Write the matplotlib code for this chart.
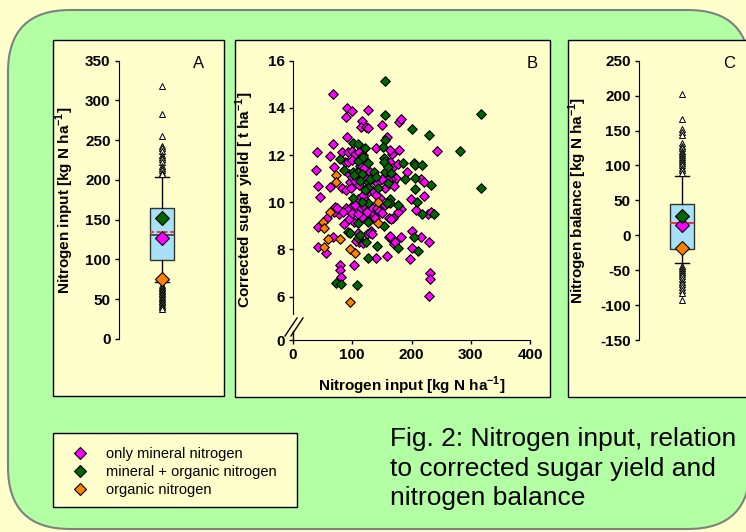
import numpy as np
import matplotlib
matplotlib.use('Agg')
import matplotlib.pyplot as plt
from matplotlib.patches import FancyBboxPatch, Rectangle
from matplotlib.lines import Line2D

plt.rcParams['font.family'] = ['Liberation Sans', 'DejaVu Sans']
plt.rcParams['axes.unicode_minus'] = False
plt.rcParams['mathtext.fontset'] = 'custom'
plt.rcParams['mathtext.rm'] = 'Liberation Sans'
plt.rcParams['mathtext.bf'] = 'Liberation Sans:bold'

# colours of the three fertilisation groups
c_min = '#FF00FF'
c_mix = '#006600'
c_org = '#FF8000'

# --- panel B: nitrogen input vs corrected sugar yield ---
min_x = [67.5, 91.7, 99.6, 127.1, 89.5, 117, 114.2, 122.6, 127.1, 149.7, 179, 182.3, 91.7, 139.5,
         67.5, 158, 40, 62.4, 83.3, 92.3, 100.1, 104.6, 112, 118.7, 87.8, 93.4, 99, 119.8, 113.1,
         167.7, 163.7, 167.7, 69.8, 38.3, 41.6, 62.4, 82.1, 88.9, 96.2, 141.2, 169.3, 173.3, 45.6,
         110.3, 120.4, 146.8, 70.9, 77.6, 69.8, 88.9, 99, 92.3, 113.1, 132.8, 141.2, 145.1, 132.8,
         122.6, 115.9, 103.5, 56.8, 42.8, 86.6, 169.3, 162, 68.1, 110.3, 125.4, 131.1, 112, 118.7,
         41.6, 55.7, 140.1, 159.2, 162.6, 166.5, 171, 79.3, 79.3, 102.9, 80.4,
         179, 242.5, 176.7, 193, 215.5, 221.7, 199.2, 221.7, 182.3, 177.8, 208.2, 228.5, 232.4,
         200.3, 215.5, 182.3, 229.6, 201.5, 197.5, 231.3, 231.3, 229.6,
         164, 166, 160, 150, 156, 171, 155, 165, 95, 100, 108, 115, 120, 125, 130, 135, 105, 98,
         112, 125, 133, 140, 118, 95, 100, 110, 118, 125, 138, 150, 105, 85, 75, 106, 130, 134,
         164, 172]
min_y = [14.59, 13.98, 13.87, 13.9, 13.61, 13.46, 13.18, 13.2, 13.16, 13.28, 13.42, 13.52, 12.78,
         12.32, 12.46, 12.75, 12.15, 11.98, 12.12, 12.15, 12.17, 12.06, 12.12, 12.01, 11.69, 11.69,
         11.78, 11.78, 11.55, 12.03, 11.69, 11.47, 11.51, 11.37, 10.7, 10.66, 10.62, 10.52, 10.87,
         10.8, 10.87, 11.01, 10.21, 10.14, 10.14, 10.17, 9.79, 9.49, 9.6, 9.77, 9.82, 9.67, 9.74,
         9.74, 9.77, 9.64, 9.46, 9.46, 9.36, 9.18, 9.32, 8.93, 9.09, 9.32, 9.35, 8.51, 8.69, 8.64,
         8.76, 8.33, 8.26, 8.12, 7.84, 7.63, 7.74, 8.54, 8.4, 8.22, 7.32, 7.13, 7.34, 6.81,
         12.22, 12.16, 11.61, 11.3, 10.97, 10.87, 10.15, 10.27, 9.7, 9.6, 9.66, 9.52, 9.6,
         8.76, 8.52, 8.52, 8.33, 8.05, 7.6, 7.02, 6.75, 6.04,
         12.2, 11.0, 10.95, 11.0, 10.6, 10.7, 9.9, 9.3, 11.2, 11.05, 11.3, 11.1, 11.45, 11.0, 11.3,
         11.1, 10.9, 10.6, 10.75, 10.4, 10.5, 10.3, 10.3, 9.3, 9.55, 9.5, 9.9, 9.6, 9.35, 9.55,
         9.9, 9.6, 9.75, 8.36, 8.68, 8.64, 8.57, 8.33]
mix_x = [155.8, 155.8, 101.8, 110.3, 121.5, 156, 152.5, 79.3, 109.1, 127.1, 86.1, 101.8, 110.3, 117,
         137.3, 153.6, 153, 155.3, 165.4, 103.5, 113.1, 126, 127.1, 121.5, 159.8, 101.8, 127.1,
         163.7, 163.7, 127.1, 110.3, 154.2, 93.4, 109.1, 113.1, 123.2, 142.3, 126, 72, 81, 107.5,
         316.8, 201.5, 229, 282.5, 185.7, 203.7, 206, 217.2, 189.1, 206, 232.4, 206, 316.8, 209.9,
         176.7, 217.2, 238, 203.7, 176.7, 210.5, 97, 144, 160, 117, 158, 130, 118, 140]
mix_y = [15.14, 13.7, 12.51, 12.47, 12.29, 12.62, 12.36, 11.83, 11.75, 11.65, 11.37, 11.27, 11.3,
         11.21, 11.3, 11.86, 11.69, 11.3, 11.23, 11.16, 10.9, 10.87, 10.62, 10.52, 10.8, 10.2, 9.96,
         10.14, 9.96, 9.18, 9.11, 9.01, 8.73, 8.47, 8.61, 8.33, 8.16, 7.65, 6.57, 6.54, 6.5,
         13.74, 13.12, 12.84, 12.16, 11.65, 11.65, 11.58, 11.58, 10.99, 11.02, 10.73, 10.56, 10.62,
         10.0, 9.9, 9.5, 9.52, 8.53, 8.05, 7.95, 8.68, 10.6, 11.5, 10.0, 9.95, 11.0, 11.9, 11.05]
org_x = [72, 72.6, 143, 62.4, 51.2, 52.9, 144, 59.6, 78.8, 52.3, 96.2, 104.6, 96.8]
org_y = [11.16, 10.86, 10.0, 9.58, 9.15, 8.9, 9.14, 8.44, 8.44, 8.11, 8.02, 7.84, 5.79]

yield_ticks = [6, 8, 10, 12, 14, 16]
input_ticks = [0, 100, 200, 300, 400]

# --- panel A: nitrogen input box plot ---
a_q1, a_med, a_q3, a_mean = 99, 131, 165, 134
a_lo, a_hi = 72, 204
a_fliers = [318, 283, 255, 243, 240, 236, 232, 229, 226, 222, 218, 215, 212, 209, 207,
            68, 66, 64, 62, 60, 58, 56, 54, 52, 50, 48, 46, 44, 42, 40, 38]
a_means = [127, 152, 75]   # only mineral, mineral + organic, organic

# --- panel C: nitrogen balance box plot ---
c_q1, c_med, c_q3, c_mean = -20, 18, 45, 18
c_lo, c_hi = -40, 85
c_fliers = [202, 167, 152, 148, 143, 132, 128, 125, 121, 118, 115, 112, 109, 106, 103, 100, 97, 93, 89,
            -44, -47, -50, -53, -56, -59, -63, -67, -70, -74, -78, -82, -92]
c_means = [15, 28, -18]

legend_labels = ['only mineral nitrogen', 'mineral + organic nitrogen', 'organic nitrogen']
caption = 'Fig. 2: Nitrogen input, relation\nto corrected sugar yield and\nnitrogen balance'

W, H = 746, 532
fig = plt.figure(figsize=(W / 100, H / 100), dpi=100, facecolor='#FFFFCC')


def box(px0, py0, px1, py1):
    return [px0 / W, 1 - py1 / H, (px1 - px0) / W, (py1 - py0) / H]


# background drawn in pixel units
bg = fig.add_axes([0, 0, 1, 1])
bg.set_xlim(0, W)
bg.set_ylim(H, 0)
bg.axis('off')
bg.add_patch(FancyBboxPatch((8, 10), 742, 519, boxstyle='round,pad=0,rounding_size=62',
                            fc='#B3FFA3', ec='#808080', lw=1.5))
for (x0, y0, w, h) in [(53, 40, 171, 356), (235, 40, 315, 357), (568, 40, 182, 357),
                       (53, 433, 244, 74)]:
    bg.add_patch(Rectangle((x0, y0), w, h, fc='#FFFFCC', ec='black', lw=1))

# break marks on the yield axis
for dx in (0, 6):
    bg.plot([285 + dx, 297 + dx], [336, 318], color='black', lw=1)

lab_font = dict(fontsize=11, fontweight='bold')
tick_size = 11


def style_box_axes(ax):
    ax.patch.set_visible(False)
    for s in ['top', 'right', 'bottom']:
        ax.spines[s].set_visible(False)
    ax.set_xticks([])
    ax.tick_params(axis='y', direction='out', length=3, width=1, pad=3)
    for t in ax.get_yticklabels():
        t.set_fontweight('bold')
        t.set_fontsize(tick_size)


def draw_box(ax, q1, med, q3, mean, lo, hi, fliers, means, mean_ls):
    st = dict(med=med, q1=q1, q3=q3, whislo=lo, whishi=hi, mean=mean, fliers=fliers)
    ax.bxp([st], positions=[1], widths=0.29, patch_artist=True, showmeans=True, meanline=True,
           boxprops=dict(facecolor='#A8E0F8', edgecolor='#333333', lw=1),
           medianprops=dict(color='#404040', lw=1.2),
           meanprops=dict(color='#E8383D', lw=1.4, ls=mean_ls),
           whiskerprops=dict(color='black', lw=1), capprops=dict(color='black', lw=1),
           capwidths=0.17,
           flierprops=dict(marker='^', markerfacecolor='white', markeredgecolor='black',
                           markersize=4, markeredgewidth=0.7))
    for v, c in zip(means, [c_min, c_mix, c_org]):
        ax.plot([1], [v], marker='D', ms=7.5, mfc=c, mec='black', mew=0.8, zorder=5)
    ax.set_xlim(0.5, 1.5)


# panel A
ax_a = fig.add_axes(box(119, 60.7, 205, 339))
draw_box(ax_a, a_q1, a_med, a_q3, a_mean, a_lo, a_hi, a_fliers, a_means, (0, (2, 1.5)))
ax_a.set_ylim(0, 350)
ax_a.set_yticks(np.arange(0, 351, 50))
style_box_axes(ax_a)

# panel C
ax_c = fig.add_axes(box(639, 60.7, 725, 340))
draw_box(ax_c, c_q1, c_med, c_q3, c_mean, c_lo, c_hi, c_fliers, c_means, '-')
ax_c.set_ylim(-150, 250)
ax_c.set_yticks(np.arange(-150, 251, 50))
style_box_axes(ax_c)

# panel B
ax_b = fig.add_axes(box(293, 60.7, 530, 340))
ax_b.patch.set_visible(False)
y_bottom = 4.16
for xs, ys, c, lab in [(min_x, min_y, c_min, legend_labels[0]),
                       (mix_x, mix_y, c_mix, legend_labels[1]),
                       (org_x, org_y, c_org, legend_labels[2])]:
    ax_b.scatter(xs, ys, marker='D', s=24, c=c, edgecolors='black', linewidths=0.8,
                 label=lab, zorder=3)
ax_b.set_xlim(0, 400)
ax_b.set_ylim(y_bottom, 16)
ax_b.set_xticks(input_ticks)
ax_b.set_yticks([y_bottom] + yield_ticks)
ax_b.set_yticklabels(['0'] + [str(v) for v in yield_ticks])
ax_b.spines['top'].set_visible(False)
ax_b.spines['right'].set_visible(False)
ax_b.spines['left'].set_bounds(5.25, 16)
ax_b.plot([0, 0], [y_bottom, 4.55], color='black', lw=1, clip_on=False,
          transform=ax_b.get_yaxis_transform())
ax_b.tick_params(direction='out', length=3, width=1, pad=3)
for t in ax_b.get_xticklabels() + ax_b.get_yticklabels():
    t.set_fontweight('bold')
    t.set_fontsize(tick_size)

# axis titles and panel letters
sup = r'$^{\mathbf{-1}}$'
fig.text(65 / W, 1 - 200 / H, 'Nitrogen input [kg N ha' + sup + ']', rotation=90,
         ha='center', va='center', **lab_font)
fig.text(245 / W, 1 - 200 / H, 'Corrected sugar yield [ t ha' + sup + ']', rotation=90,
         ha='center', va='center', **lab_font)
fig.text(578 / W, 1 - 200 / H, 'Nitrogen balance [kg N ha' + sup + ']', rotation=90,
         ha='center', va='center', **lab_font)
fig.text(412 / W, 1 - 386 / H, 'Nitrogen input [kg N ha' + sup + ']', ha='center', va='center',
         **lab_font)
for letter, px in [('A', 199), ('B', 532), ('C', 729)]:
    fig.text(px / W, 1 - 63 / H, letter, ha='center', va='center', fontsize=12)

# legend
handles = [Line2D([], [], ls='none', marker='D', ms=6, mfc=c, mec='black', mew=0.8)
           for c in [c_min, c_mix, c_org]]
fig.legend(handles, legend_labels, loc='upper left', bbox_to_anchor=(64 / W, 1 - 440 / H),
           frameon=False, fontsize=10.5, handlelength=1.2, handletextpad=1.2, labelspacing=0.28,
           borderpad=0)

fig.text(390 / W, 1 - 427 / H, caption, ha='left', va='top', fontsize=19, linespacing=1.3)

fig.savefig('out.png', dpi=100, facecolor=fig.get_facecolor())
